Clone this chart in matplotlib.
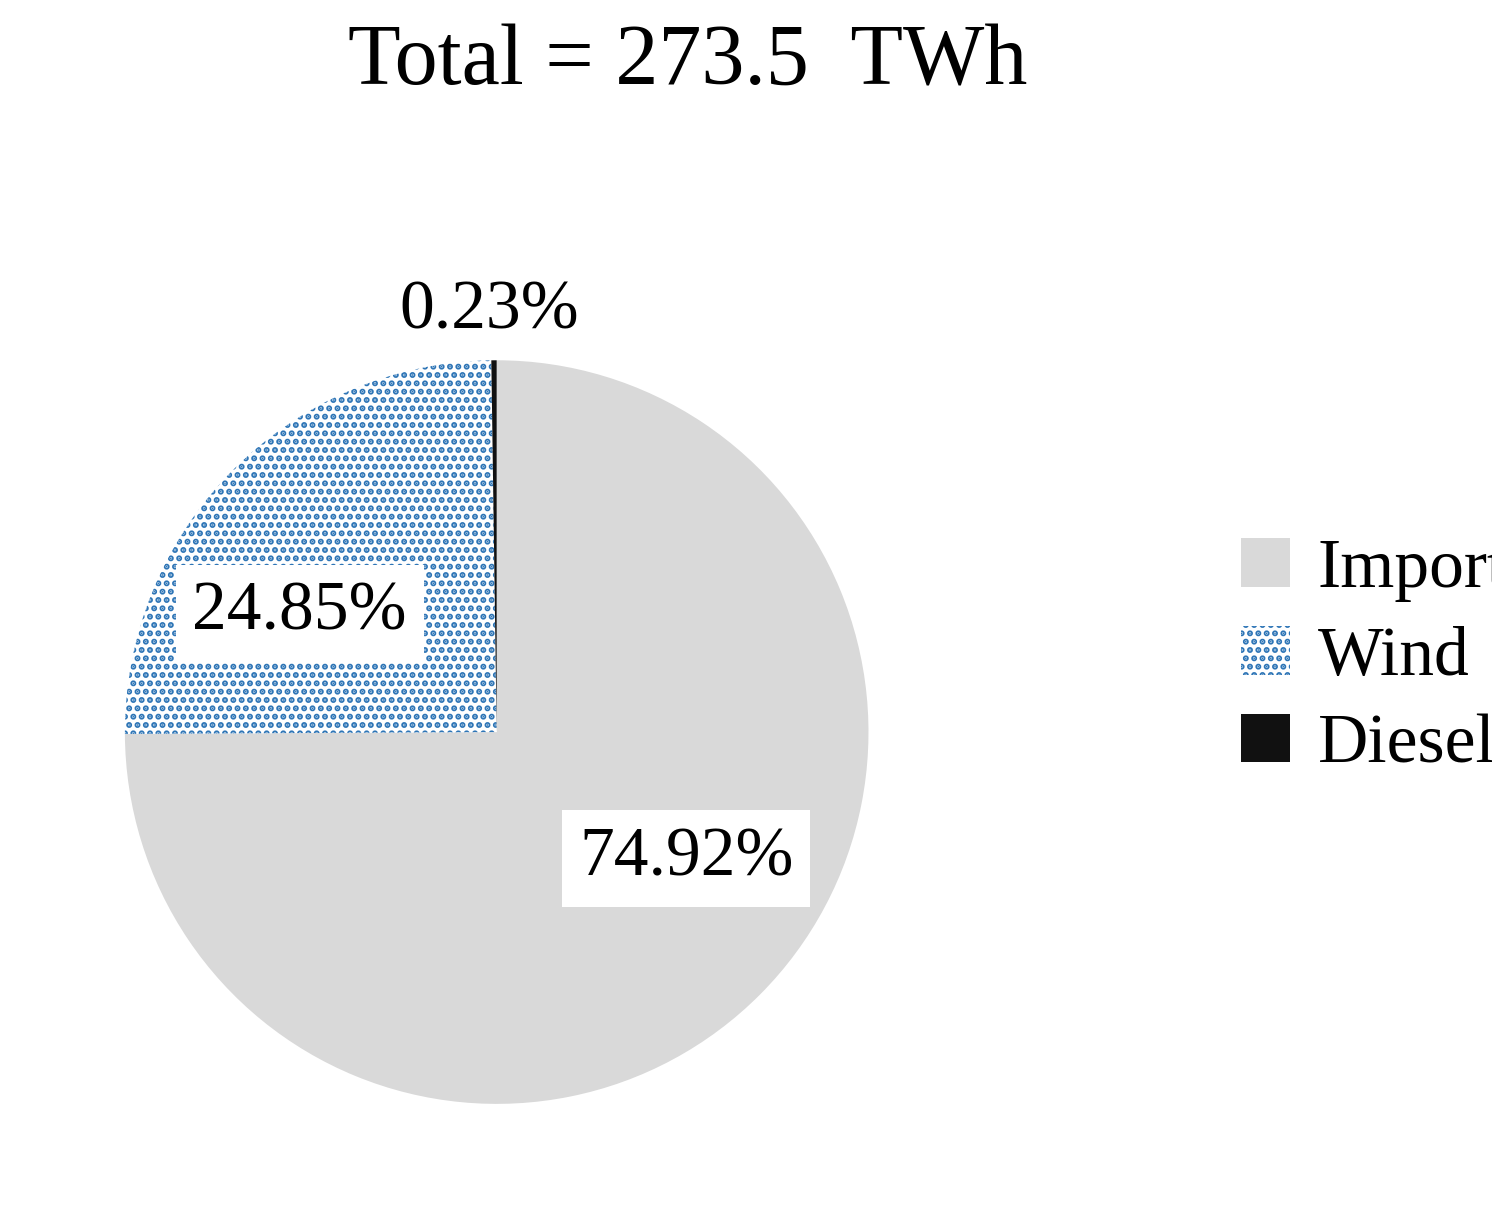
import matplotlib.pyplot as plt
from matplotlib.patches import Patch

plt.rcParams['font.family'] = ['Liberation Serif', 'DejaVu Serif']
plt.rcParams['hatch.color'] = '#2e75b6'
plt.rcParams['hatch.linewidth'] = 3.0

labels = ['Import', 'Wind', 'Diesel']
shares = [74.92, 24.85, 0.23]
pct_text = ['74.92%', '24.85%', '0.23%']

fig = plt.figure(figsize=(14.92, 12.18), dpi=100)
ax = fig.add_axes([0.0214, 0.0172, 0.623, 0.7635])
wedges, _ = ax.pie(shares, startangle=90, counterclock=False,
                   colors=['#d9d9d9', 'white', '#111111'],
                   wedgeprops=dict(linewidth=0))
wedges[1].set_hatch('..')
wedges[1].set_edgecolor('#2e75b6')
wedges[1].set_linewidth(0)
ax.set_aspect('equal')

# percentage labels
box = dict(facecolor='white', edgecolor='none', pad=12)
ax.text(0.51, -0.34, pct_text[0], fontsize=50, ha='center', va='center', bbox=box)
ax.text(-0.53, 0.32, pct_text[1], fontsize=50, ha='center', va='center', bbox=box)
ax.text(-0.02, 1.13, pct_text[2], fontsize=50, ha='center', va='center')

fig.text(0.461, 0.948, 'Total = 273.5  TWh', fontsize=62, ha='center', va='center')

handles = [Patch(facecolor='#d9d9d9', edgecolor='none'),
           Patch(facecolor='white', edgecolor='#2e75b6', hatch='..', linewidth=0),
           Patch(facecolor='#111111', edgecolor='none')]
fig.legend(handles, labels, loc='center left', bbox_to_anchor=(0.79, 0.46),
           frameon=False, fontsize=50, handlelength=0.7, handleheight=0.7,
           handletextpad=0.4, labelspacing=0.35)

fig.savefig('out.png', dpi=100)
